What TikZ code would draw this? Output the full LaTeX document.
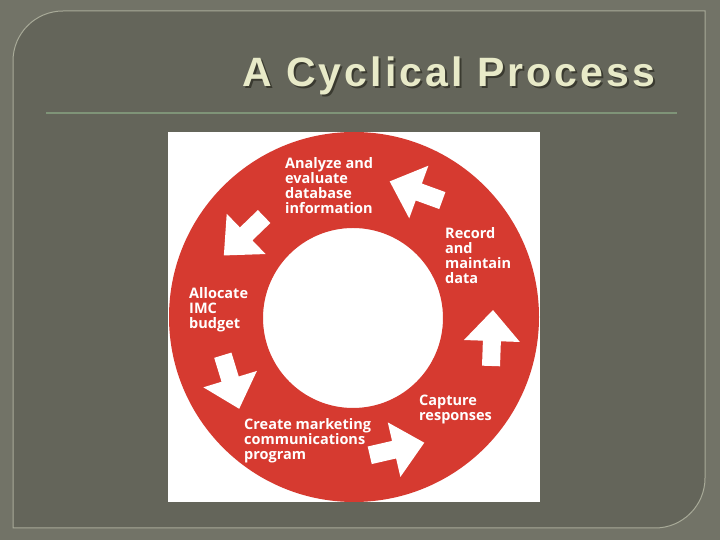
\documentclass[tikz,border=0pt]{standalone}
\usepackage{fontspec}
\setmainfont{Open Sans}
\newfontfamily\titlefont[LetterSpace=7.5]{Liberation Sans}
\usetikzlibrary{positioning}
\definecolor{outerbg}{RGB}{114,115,103}
\definecolor{panelbg}{RGB}{100,101,90}
\definecolor{panelrim}{RGB}{168,170,152}
\definecolor{ringred}{RGB}{214,58,48}
\definecolor{titlecream}{RGB}{232,234,200}
\definecolor{titleshade}{RGB}{58,58,48}
\definecolor{rulegreen}{RGB}{127,148,120}
\begin{document}
\begin{tikzpicture}[x=1pt, y=1pt,
    steplabel/.style={text=white, font=\bfseries\fontsize{14.5}{15.2}\selectfont, align=left, anchor=north west, inner sep=0pt},
    titletext/.style={font=\titlefont\bfseries\fontsize{41}{45}\selectfont, anchor=base west, inner sep=0pt},
    flowarrow/.pic={\fill[white] (-28,-9) -- (-3,-9) -- (-3,-28) -- (28,0) -- (-3,28) -- (-3,9) -- (-28,9) -- cycle;}]
      \useasboundingbox (0,0) rectangle (720,540);
      \fill[outerbg] (0,0) rectangle (720,540);
      \filldraw[fill=panelbg, draw=panelrim, line width=1pt] (13,12) -- (655,12) arc[start angle=-90, end angle=0, radius=50] -- (705,529) -- (63,529) arc[start angle=90, end angle=180, radius=50] -- cycle;

      \node[titletext, text=titleshade] (titleshadow) at (244,451) {A Cyclical Process};
      \node[titletext, text=titlecream] (title) at (242,453) {A Cyclical Process};
      \draw[rulegreen, line width=2pt] (46,427) -- (677,427);

      \fill[white] (168,38) rectangle (540,408);
      \fill[ringred, even odd rule] (354,223) circle[radius=185] (353,222) circle[radius=90];

      \pic (toanalyze) at (416,349) [rotate=160] {flowarrow};
      \pic (toallocate) at (244,304) [rotate=224] {flowarrow};
      \pic (tocreate) at (231,158) [rotate=-73] {flowarrow};
      \pic (tocapture) at (397,91) [rotate=13] {flowarrow};
      \pic (torecord) at (492,202) [rotate=88] {flowarrow};

      \node[steplabel] (analyze) at (285,383) {Analyze and\\evaluate\\database\\information};
      \node[steplabel] (record) at (445,313) {Record\\and\\maintain\\data};
      \node[steplabel] (allocate) at (189,253) {Allocate\\IMC\\budget};
      \node[steplabel] (capture) at (419,145) {Capture\\responses};
      \node[steplabel] (create) at (244,122) {Create marketing\\communications\\program};
    \end{tikzpicture}
\end{document}
